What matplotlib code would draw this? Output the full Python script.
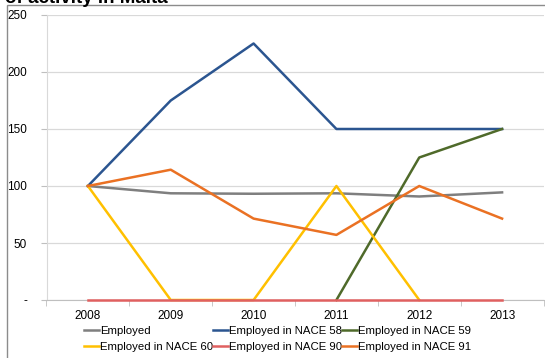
import numpy as np
import matplotlib
matplotlib.use("Agg")
import matplotlib.pyplot as plt
from matplotlib.patches import Rectangle

plt.rcParams["font.family"] = ["Liberation Sans", "DejaVu Sans"]

years = ["2008", "2009", "2010", "2011", "2012", "2013"]
employed = [100, 93.6, 93.2, 93.6, 90.8, 94.4]
nace58 = [100, 175, 225, 150, 150, 150]
nace59 = [np.nan, np.nan, np.nan, 0, 125, 150]
nace60 = [100, 0, 0, 100, 0, np.nan]
nace90 = [0, 0, 0, 0, 0, 0]
nace91 = [100, 114.3, 71.4, 57.1, 100, 71.4]

series = [
    ("Employed", employed, "#7f7f7f"),
    ("Employed in NACE 58", nace58, "#2b5590"),
    ("Employed in NACE 59", nace59, "#4f6a2a"),
    ("Employed in NACE 60", nace60, "#ffc000"),
    ("Employed in NACE 90", nace90, "#e06060"),
    ("Employed in NACE 91", nace91, "#ea7123"),
]

W, H = 545, 358
fig = plt.figure(figsize=(W / 100, H / 100), dpi=100)

# outer chart frame (cut off at right/bottom)
fig.patches.append(Rectangle((7 / W, -0.1), 1.2, 1 - 5 / H + 0.1, transform=fig.transFigure,
                             fill=False, edgecolor="#8c8c8c", linewidth=1.0))
# title, mostly cut off at the top
fig.text(5 / W, 1 - 3 / H, "of activity in Malta", fontsize=13.5, fontweight="bold",
         ha="left", va="baseline")

ax = fig.add_axes([46.5 / W, 1 - 300 / H, (543.5 - 46.5) / W, (300 - 15) / H])
x = np.arange(len(years))
lines = {}
for name, vals, col in series:
    ln, = ax.plot(x, vals, color=col, linewidth=1.8, label=name, zorder=3)
    ln.set_clip_on(False)
    lines[name] = ln

ax.set_xlim(-0.5, len(years) - 0.5)
ax.set_ylim(0, 250)
ax.set_yticks(range(0, 251, 50))
ax.set_yticklabels(["-" if v == 0 else str(v) for v in range(0, 251, 50)], fontsize=8.5)
ax.set_xticks(x)
ax.set_xticklabels(years, fontsize=8.5)
ax.set_xticks(np.arange(-0.5, len(years), 1), minor=True)
ax.tick_params(axis="x", which="major", length=0, pad=7)
ax.tick_params(axis="x", which="minor", length=4, color="#bfbfbf")
ax.tick_params(axis="y", length=4, color="#bfbfbf", pad=10)
ax.grid(axis="y", color="#d9d9d9", linewidth=0.9)
ax.set_axisbelow(True)
for s in ["top", "right"]:
    ax.spines[s].set_visible(False)
ax.spines["left"].set_color("#d9d9d9")
ax.spines["bottom"].set_color("#bfbfbf")

order = ["Employed", "Employed in NACE 60", "Employed in NACE 58",
         "Employed in NACE 90", "Employed in NACE 59", "Employed in NACE 91"]
fig.legend([lines[n] for n in order], order, ncol=3, loc="upper left",
           bbox_to_anchor=(84 / W, 1 - 326 / H), frameon=False, fontsize=8.2,
           handlelength=1.3, handletextpad=0.1, columnspacing=0.0,
           labelspacing=0.55, borderpad=0, borderaxespad=0)

fig.savefig("out.png", dpi=100)
